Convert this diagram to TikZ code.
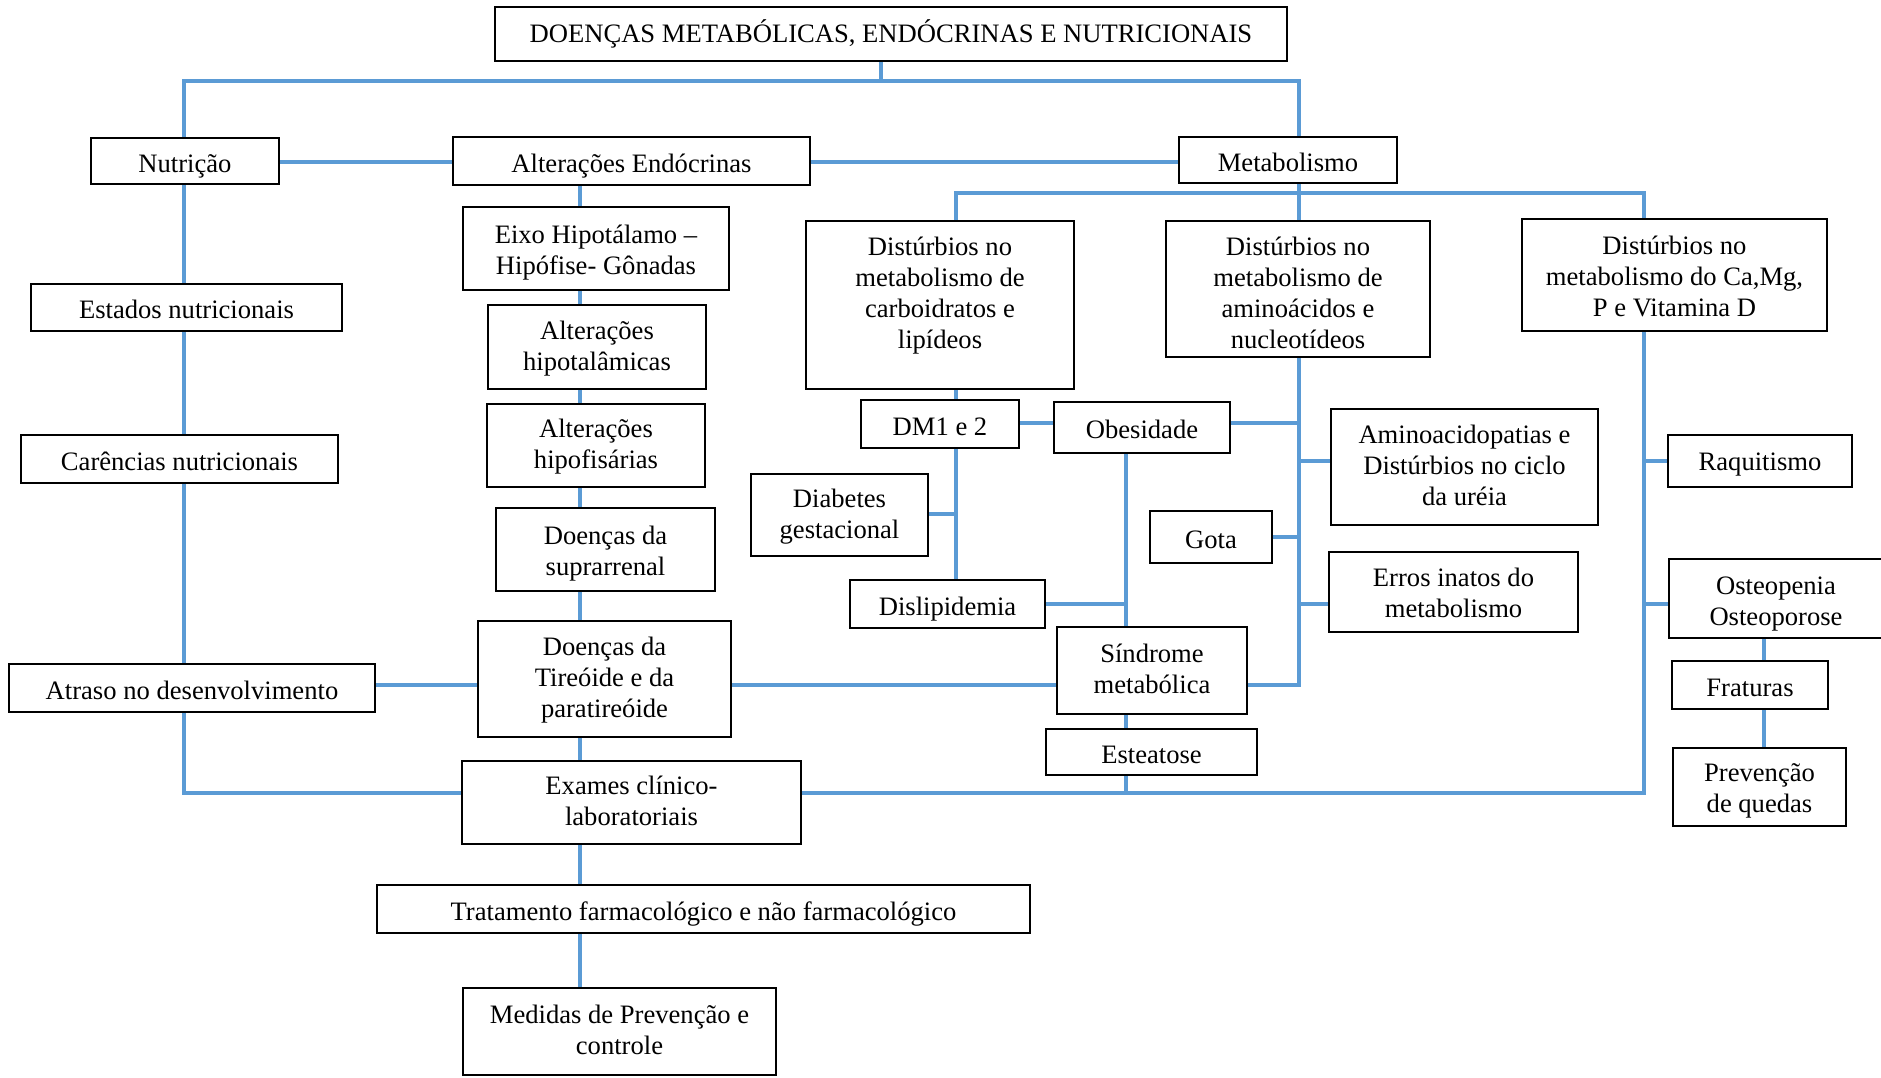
\documentclass[tikz,border=0pt]{standalone}
\usepackage{fontspec}
\setmainfont{Liberation Serif}
\usetikzlibrary{backgrounds}
\definecolor{linkblue}{RGB}{91,155,213}
\newcommand\boxfont{\fontsize{26.6}{31}\selectfont}
\tikzset{
  box/.style={draw=black, line width=2.2pt, fill=white, inner sep=0pt,
              align=center, font=\boxfont, text height=29pt, text depth=6.4pt},
  % fixed text metrics (above the last baseline) for boxes with two, three and four lines
  twolines/.style={text height=53pt, text depth=6.4pt},
  threelines/.style={text height=84pt, text depth=6.4pt},
  fourlines/.style={text height=115pt, text depth=6.4pt},
  link/.style={draw=linkblue, line width=4pt},
}
\begin{document}
\begin{tikzpicture}[x=1pt, y=-1pt]
\useasboundingbox (0,0) rectangle (1881,1077);

% --- top level
\node[box, text height=24pt, minimum width=792, minimum height=54] (title) at (891,34)
  {DOENÇAS METABÓLICAS, ENDÓCRINAS E NUTRICIONAIS};
\node[box, minimum width=188, minimum height=46] (nutricao) at (185,161) {Nutrição};
\node[box, minimum width=357, minimum height=48] (altend) at (631.5,161) {Alterações Endócrinas};
\node[box, minimum width=218, minimum height=46] (metab) at (1288,160) {Metabolismo};

% --- nutrition column
\node[box, minimum width=311, minimum height=47] (estados) at (186.5,307.5) {Estados nutricionais};
\node[box, minimum width=317, minimum height=48] (carencias) at (179.5,459) {Carências nutricionais};
\node[box, minimum width=366, minimum height=48] (atraso) at (192,688) {Atraso no desenvolvimento};

% --- endocrine column
\node[box, twolines, text height=58pt, minimum width=266, minimum height=83] (eixo) at (596,248.5) {Eixo Hipotálamo –\\Hipófise- Gônadas};
\node[box, twolines, minimum width=218, minimum height=84] (hipotal) at (597,347) {Alterações\\hipotalâmicas};
\node[box, twolines, minimum width=218, minimum height=83] (hipofis) at (596,445.5) {Alterações\\hipofisárias};
\node[box, twolines, text height=58pt, minimum width=219, minimum height=83] (supra) at (605.5,549.5) {Doenças da\\suprarrenal};
\node[box, threelines, minimum width=253, minimum height=116] (tireoide) at (604.5,679) {Doenças da\\Tireóide e da\\paratireóide};
\node[box, twolines, minimum width=339, minimum height=83] (exames) at (631.5,802.5) {Exames clínico-\\laboratoriais};
\node[box, minimum width=653, minimum height=48] (tratamento) at (703.5,909) {Tratamento farmacológico e não farmacológico};
\node[box, twolines, minimum width=313, minimum height=87] (medidas) at (619.5,1031.5) {Medidas de Prevenção e\\controle};

% --- metabolism groups (text sits near the top of the first two)
\node[box, text height=115pt, text depth=28.4pt, minimum width=268, minimum height=168] (carb) at (940,305)
  {Distúrbios no\\metabolismo de\\carboidratos e\\lipídeos};
\node[box, fourlines, text height=125pt, minimum width=264, minimum height=136] (amino) at (1298,289)
  {Distúrbios no\\metabolismo de\\aminoácidos e\\nucleotídeos};
\node[box, threelines, text height=89pt, minimum width=305, minimum height=112] (ca) at (1674.5,275)
  {Distúrbios no\\metabolismo do Ca,Mg,\\P e Vitamina D};

% --- carbohydrate / lipid branch
\node[box, minimum width=158, minimum height=48] (dm) at (940,424) {DM1 e 2};
\node[box, minimum width=176, minimum height=51] (obes) at (1142,427.5) {Obesidade};
\node[box, twolines, minimum width=177, minimum height=82] (diabg) at (839.5,515) {Diabetes\\gestacional};
\node[box, minimum width=195, minimum height=48] (dislip) at (947.5,604) {Dislipidemia};
\node[box, twolines, minimum width=190, minimum height=87] (sindrome) at (1152,670.5) {Síndrome\\metabólica};
\node[box, minimum width=211, minimum height=46] (esteatose) at (1151.5,752) {Esteatose};

% --- amino acid branch
\node[box, minimum width=122, minimum height=52] (gota) at (1211,537) {Gota};
\node[box, threelines, minimum width=267, minimum height=116] (aminoac) at (1464.5,467)
  {Aminoacidopatias e\\Distúrbios no ciclo\\da uréia};
\node[box, twolines, text height=58pt, minimum width=249, minimum height=80] (erros) at (1453.5,592) {Erros inatos do\\metabolismo};

% --- mineral / bone branch
\node[box, text height=25pt, minimum width=184, minimum height=52] (raqui) at (1760,461) {Raquitismo};
\node[box, twolines, text height=60pt, minimum width=214, minimum height=79] (osteo) at (1776,598.5) {Osteopenia\\Osteoporose};
\node[box, minimum width=156, minimum height=48] (fraturas) at (1750,685) {Fraturas};
\node[box, twolines, text height=57pt, minimum width=173, minimum height=78] (prevencao) at (1759.5,787) {Prevenção\\de quedas};

% --- connector columns and rows
\coordinate (cN) at (184,0);
\coordinate (cT) at (881,0);
\coordinate (cE) at (580,0);
\coordinate (cC) at (956,0);
\coordinate (cO) at (1126,0);
\coordinate (cM) at (1298.5,0);
\coordinate (cCa) at (1643.5,0);
\coordinate (cF) at (1764,0);
\coordinate (bus1) at (0,81);
\coordinate (bus2) at (0,193);
\coordinate (bus3) at (0,793);
\coordinate (r161) at (0,161.5);
\coordinate (r423) at (0,423);
\coordinate (r461) at (0,461);
\coordinate (r514) at (0,514);
\coordinate (r537) at (0,537);
\coordinate (r604) at (0,604);
\coordinate (r684) at (0,684.5);

\begin{scope}[on background layer]
  % main branches
  \draw[link] (title.south -| cT) -- (cT |- bus1);
  \draw[link] (nutricao.north -| cN) -- (cN |- bus1) -- (cM |- bus1) -- (metab.north -| cM);
  \draw[link] (nutricao.east |- r161) -- (altend.west |- r161);
  \draw[link] (altend.east |- r161) -- (metab.west |- r161);

  % nutrition column
  \draw[link] (nutricao.south -| cN) -- (estados.north -| cN);
  \draw[link] (estados.south -| cN) -- (carencias.north -| cN);
  \draw[link] (carencias.south -| cN) -- (atraso.north -| cN);
  \draw[link] (atraso.south -| cN) |- (exames.west |- bus3);
  \draw[link] (atraso.east |- r684) -- (tireoide.west |- r684);

  % endocrine column
  \foreach \a/\b in {altend/eixo, eixo/hipotal, hipotal/hipofis, hipofis/supra,
                     supra/tireoide, tireoide/exames, exames/tratamento,
                     tratamento/medidas}
    \draw[link] (\a.south -| cE) -- (\b.north -| cE);
  \draw[link] (tireoide.east |- r684) -- (sindrome.west |- r684);

  % metabolism bus
  \draw[link] (metab.south -| cM) -- (cM |- bus2);
  \draw[link] (carb.north -| cC) -- (cC |- bus2) -- (cCa |- bus2) -- (ca.north -| cCa);
  \draw[link] (cM |- bus2) -- (amino.north -| cM);

  % carbohydrate / lipid branch
  \draw[link] (carb.south -| cC) -- (dm.north -| cC);
  \draw[link] (dm.south -| cC) -- (dislip.north -| cC);
  \draw[link] (diabg.east |- r514) -- (cC |- r514);
  \draw[link] (dm.east |- r423) -- (obes.west |- r423);
  \draw[link] (obes.east |- r423) -- (cM |- r423);
  \draw[link] (obes.south -| cO) -- (sindrome.north -| cO);
  \draw[link] (dislip.east |- r604) -- (cO |- r604);
  \draw[link] (sindrome.south -| cO) -- (esteatose.north -| cO);
  \draw[link] (esteatose.south -| cO) -- (cO |- bus3);

  % amino acid branch
  \draw[link] (amino.south -| cM) -- (cM |- r684) -- (sindrome.east |- r684);
  \draw[link] (gota.east |- r537) -- (cM |- r537);
  \draw[link] (cM |- r461) -- (aminoac.west |- r461);
  \draw[link] (cM |- r604) -- (erros.west |- r604);

  % mineral / bone branch
  \draw[link] (exames.east |- bus3) -- (cCa |- bus3) -- (ca.south -| cCa);
  \draw[link] (cCa |- r461) -- (raqui.west |- r461);
  \draw[link] (cCa |- r604) -- (osteo.west |- r604);
  \draw[link] (osteo.south -| cF) -- (fraturas.north -| cF);
  \draw[link] (fraturas.south -| cF) -- (prevencao.north -| cF);
\end{scope}
\end{tikzpicture}
\end{document}
